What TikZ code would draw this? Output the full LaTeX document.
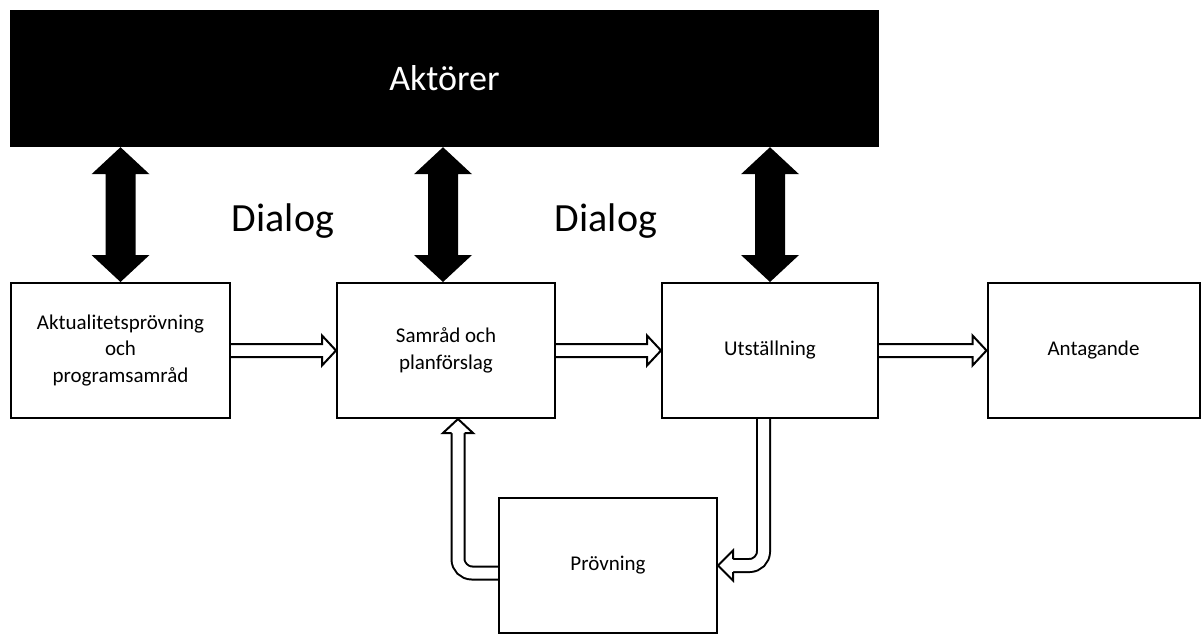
\documentclass[tikz,border=0pt]{standalone}
\usepackage{fontspec}
\setmainfont{Carlito}
\usetikzlibrary{calc,backgrounds}
\pgfdeclarelayer{paper}
\pgfsetlayers{paper,background,main}
\begin{document}
\begin{tikzpicture}[x=1pt,y=-1pt,
  stepbox/.style={draw,line width=2pt,fill=white,inner sep=0pt,minimum height=135pt,align=center,font=\fontsize{21}{26.5}\selectfont},
  hollow/.style={draw,line width=2pt,fill=white,line join=miter},
  hollowline/.style={line width=2pt,double=white,double distance=11pt,rounded corners=14pt},
  dialog/.style={font=\fontsize{40}{48}\selectfont,anchor=base,inner sep=0pt}]
\begin{pgfonlayer}{paper}
\fill[white] (0,0) rectangle (1201,635);
\end{pgfonlayer}
\useasboundingbox (0,0) rectangle (1201,635);
\node[fill=black,text=white,minimum width=869pt,minimum height=137pt,inner sep=0pt,font=\fontsize{36}{43}\selectfont] (bar) at (444.5,78.5) {Aktörer};
\node[stepbox,minimum width=219pt] (b1) at (120.5,350.5) {Aktualitetsprövning\\och\\programsamråd};
\node[stepbox,minimum width=218pt] (b2) at (446,350.5) {Samråd och\\planförslag};
\node[stepbox,minimum width=216pt] (b3) at (770,350.5) {Utställning};
\node[stepbox,minimum width=212pt] (b4) at (1093.5,350.5) {Antagande};
\node[stepbox,minimum width=218pt] (pv) at (608,565.5) {Prövning};
\node[dialog] (d1) at (283,231) {Dialog};
\node[dialog] (d2) at (606,231) {Dialog};
% black double arrows
\foreach \b/\dx in {b1/0,b2/-3,b3/0}{
  \path ($(\b.north)+(\dx,0)$) coordinate (u\b);
  \path (u\b |- bar.south) coordinate (t\b);
  \fill (t\b) -- ++(29,27) -- ++(-14,0) -- ($(u\b)+(15,-27)$) -- ++(14,0) -- (u\b)
        -- ++(-29,-27) -- ++(14,0) -- ($(t\b)+(-15,27)$) -- ++(-14,0) -- cycle;
}
\begin{pgfonlayer}{background}
% hollow horizontal arrows
\foreach \a/\b in {b1/b2,b2/b3,b3/b4}{
  \filldraw[hollow] ($(\a.east)+(0,-6.5)$) -- ($(\b.west)+(-14,-6.5)$) -- ++(0,-8.5) -- (\b.west)
     -- ++(-14,15) -- ++(0,-8.5) -- ($(\a.east)+(0,6.5)$);
}
% feedback arrows
\draw[hollowline] ($(b3.south)+(-6.5,0)$) |- ($(pv.east)+(15,0)$);
\filldraw[hollow] ($(pv.east)+(15,-6.5)$) -- ++(0,-8.5) -- (pv.east) -- ++(15,15) -- ++(0,-8.5);
\draw[hollowline] ($(pv.west)+(0,7.5)$) -| ($(b2.south)+(12,14)$);
\filldraw[hollow] ($(b2.south)+(5.5,14)$) -- ++(-8.5,0) -- ($(b2.south)+(12,0)$) -- ++(15,14) -- ++(-8.5,0);
\end{pgfonlayer}
\end{tikzpicture}
\end{document}
